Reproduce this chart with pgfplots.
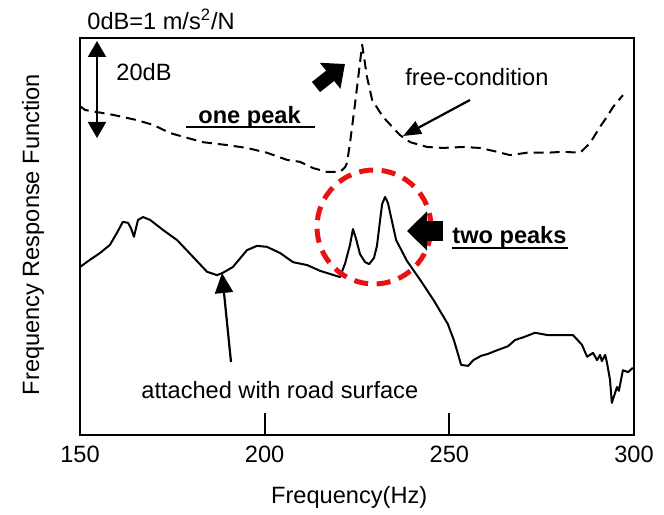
\documentclass[border=0pt]{standalone}
\usepackage{pgfplots}
\pgfplotsset{compat=1.18}
\usepackage{fontspec}
\setmainfont{Liberation Sans}
\usetikzlibrary{arrows.meta}
\newcommand\fs{\fontsize{11.8pt}{14pt}\selectfont}
\definecolor{mark red}{RGB}{232,18,18}

% free-condition FRF (dB, relative)
\pgfplotstableread{
f    L
150.0 68.5
151.4 67.7
158.9 66.7
165.4 65.6
169.8 64.6
174.4 62.9
179.0 61.9
183.3 61.0
189.8 60.4
195.2 59.8
200.6 58.8
206.1 57.3
209.6 56.9
213.1 55.6
216.9 54.8
220.4 54.8
221.8 55.8
222.3 56.7
223.1 60.8
224.5 69.2
225.8 77.5
226.4 81.3
227.7 74.6
229.1 69.8
232.0 66.3
236.6 62.5
239.4 61.0
244.0 60.0
248.3 59.8
253.7 60.0
258.3 59.8
262.9 59.0
266.4 58.3
271.0 58.8
276.4 58.8
280.8 59.0
285.4 58.8
288.1 60.8
290.8 64.2
292.7 66.3
294.3 68.3
297.0 70.8
}\freecond

% FRF with the tyre attached to the road surface
\pgfplotstableread{
f    L
150.0 35.0
152.7 36.5
155.4 37.9
158.1 39.6
160.0 42.1
161.6 44.4
163.0 44.2
163.8 43.1
164.6 41.3
165.7 44.8
167.1 45.4
169.0 44.8
172.5 42.7
176.3 40.6
180.6 37.1
184.4 34.0
187.1 33.3
188.7 33.8
191.4 35.0
195.2 38.5
197.9 39.4
200.6 39.2
204.2 37.9
207.7 36.0
211.5 35.4
215.0 34.2
220.4 32.9
221.8 35.8
223.1 39.6
223.9 42.9
224.7 41.0
225.8 37.7
227.2 36.0
228.3 35.6
229.6 36.9
230.4 39.4
231.2 44.4
231.8 48.1
232.6 49.6
233.4 48.3
233.9 46.5
235.6 40.6
238.5 36.3
242.3 32.1
245.9 27.9
249.6 23.1
251.3 19.6
253.2 14.6
255.1 14.4
256.5 15.6
258.6 16.5
260.5 16.9
262.4 17.5
265.9 18.5
267.8 19.8
270.2 20.4
273.2 21.3
276.7 20.8
280.0 20.8
283.5 20.8
285.9 18.8
287.3 16.3
288.9 17.1
290.0 15.6
290.8 16.7
291.3 15.4
292.2 16.7
292.7 15.0
293.5 11.5
294.0 6.7
295.4 10.0
295.9 9.2
297.0 13.5
298.4 13.1
299.7 14.0
}\attached

\begin{document}
\begin{tikzpicture}
\begin{axis}[
  at={(0,0)}, anchor=south west,
  scale only axis, width=277pt, height=198.5pt,
  xmin=150, xmax=300, ymin=0, ymax=82.7,
  xtick={150,200,250,300}, xtick pos=left, tick align=inside,
  major tick length=11pt,
  ytick=\empty,
  axis line style={line width=1pt},
  tick style={line width=0.9pt, black},
  ticklabel style={font=\fs},
  xticklabel style={yshift=-2pt},
  /pgf/number format/assume math mode=true,
  xlabel={Frequency(Hz)},
  ylabel={Frequency Response Function},
  label style={font=\fs},
  xlabel style={at={(axis description cs:0.486,-0.156)}, anchor=center},
  ylabel style={at={(axis description cs:-0.085,0.505)}, anchor=center},
  clip=false,
]
\addplot[black, line width=1pt, line join=round, dash pattern=on 5pt off 3pt]
  table[x=f, y=L] {\freecond};
\addplot[black, line width=1pt, line join=round]
  table[x=f, y=L] {\attached};
\end{axis}

% annotations, positioned from the lower-left corner of the frame
\begin{scope}[x=0.5pt, y=-0.5pt, shift={(-40pt,217.5pt)}, font=\fs]
  \path[use as bounding box] (0,0) rectangle (664,513);
  \node[anchor=west, inner sep=0] at (87,19) {0dB=1 m/s\textsuperscript{2}/N};
  % 20 dB scale bar
  \draw[line width=1pt, {Triangle[length=8pt,width=9pt]}-{Triangle[length=8pt,width=9pt]}] (97,41) -- (97,138);
  \node[anchor=west, inner sep=0] at (116,72) {20dB};
  % one peak
  \node[anchor=west, inner sep=0, font=\fs\bfseries] at (198,117) {one peak};
  \draw[line width=1pt] (186,127) -- (315,127);
  \draw[line width=6.5pt, -{Triangle[length=9.5pt,width=16pt]}] (316,87) -- (345,64);
  % free condition
  \node[anchor=west, inner sep=0] at (405,77) {free-condition};
  \draw[line width=1.1pt, -{Triangle[length=9pt,width=7pt]}] (470,100) -- (403,136);
  % two peaks
  \draw[mark red, line width=2.5pt, dash pattern=on 7pt off 4.3pt] (374,227) circle[radius=28.5pt];
  \draw[line width=10pt, -{Triangle[length=10pt,width=19pt]}] (443,231) -- (407,231);
  \node[anchor=west, inner sep=0, font=\fs\bfseries] at (452,237) {two peaks};
  \draw[line width=1pt] (452,248) -- (568,248);
  % attached condition
  \draw[line width=1.1pt, -{Triangle[length=10pt,width=9pt]}] (231,362) -- (222,273);
  \node[anchor=west, inner sep=0] at (141,390) {attached with road surface};
\end{scope}
\end{tikzpicture}
\end{document}
